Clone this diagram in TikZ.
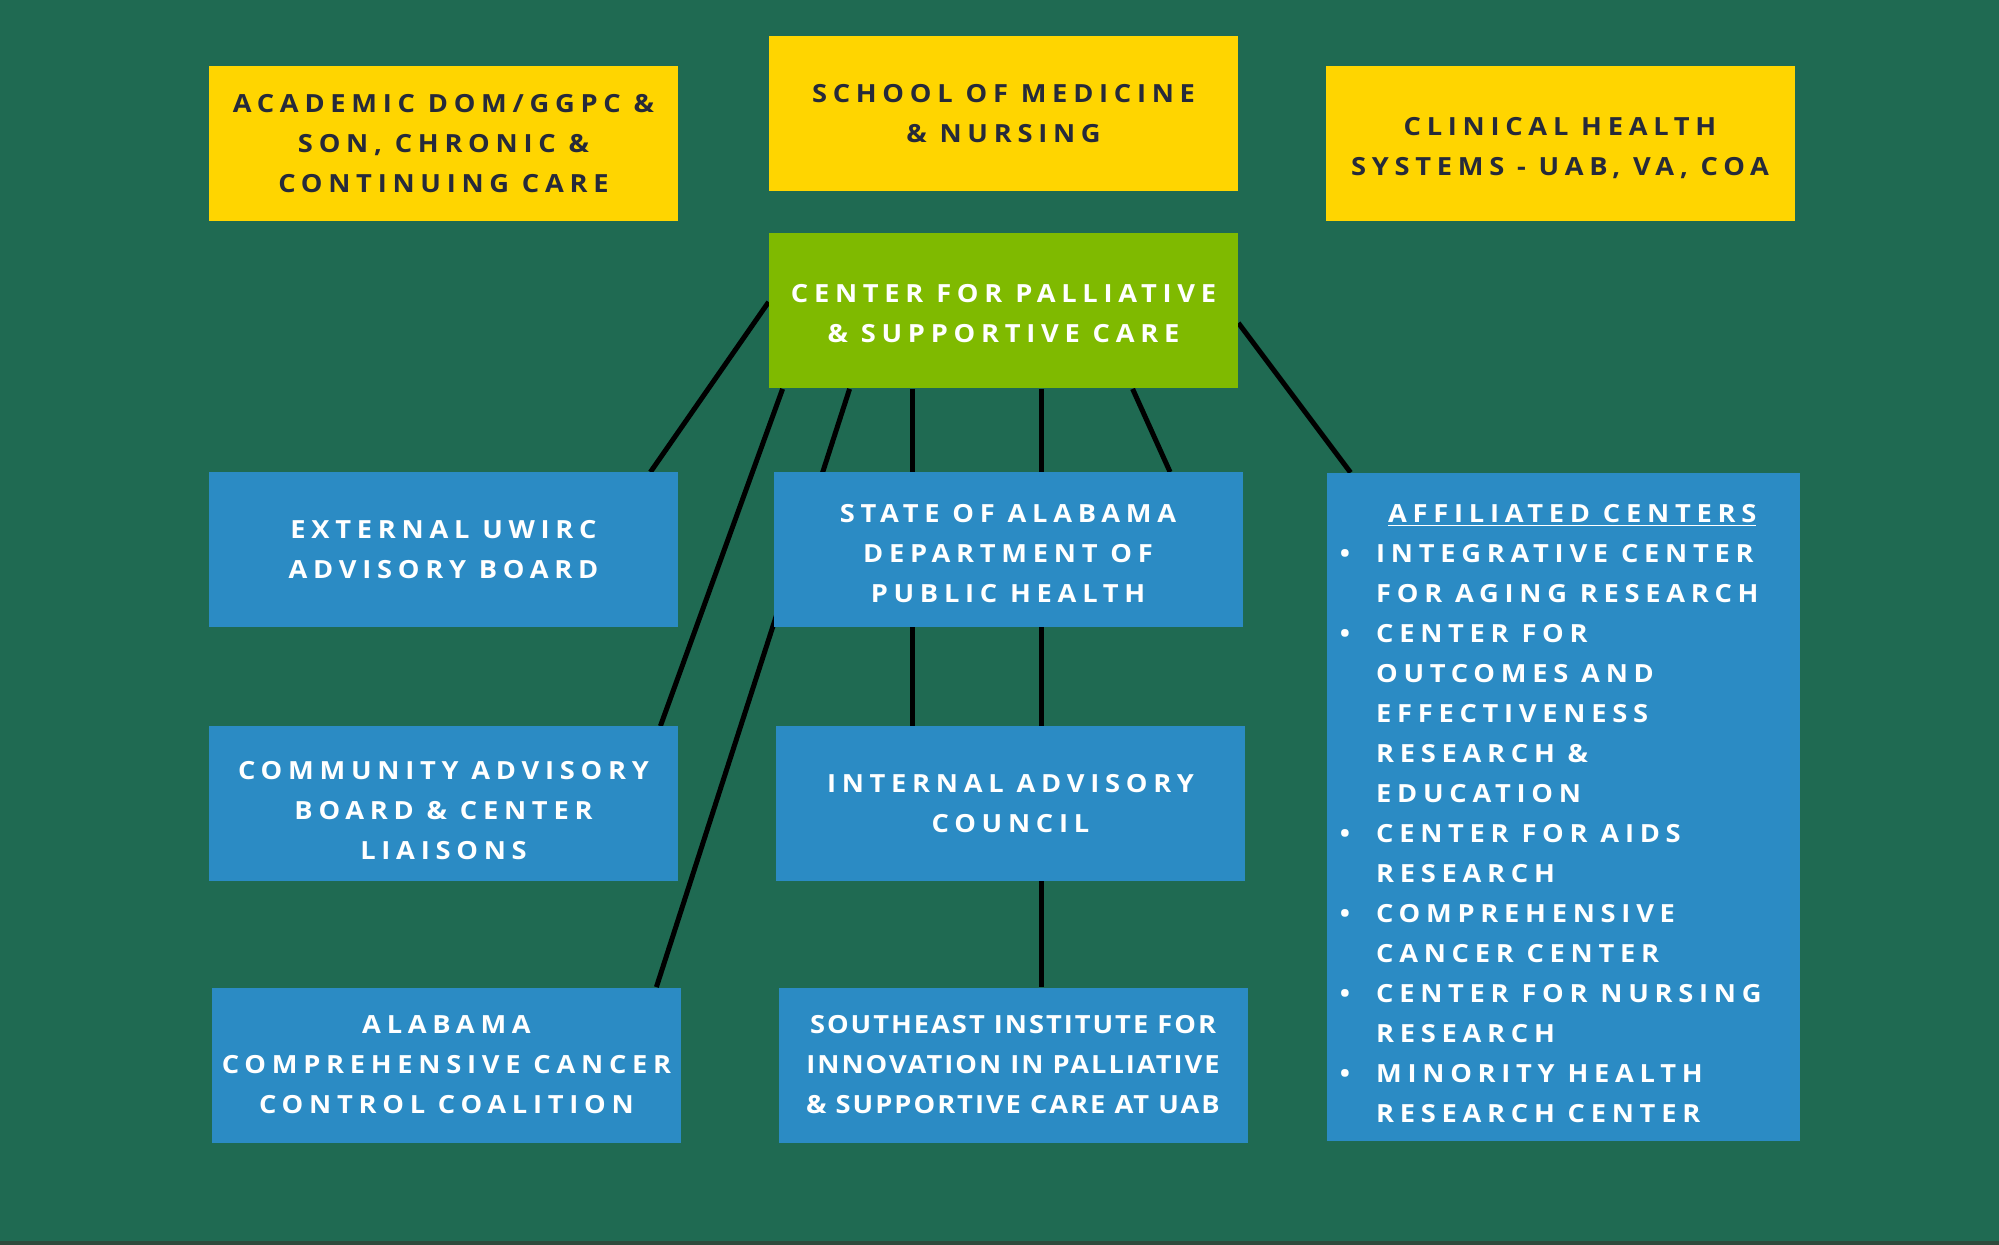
\documentclass[tikz,border=0pt]{standalone}
\usepackage{fontspec}
\setmainfont{Open Sans}
\newfontfamily\chartfont{Open Sans}[LetterSpace=23, FakeStretch=1.09]
\newfontfamily\tightfont{Open Sans}[LetterSpace=8, FakeStretch=1.09]
\usetikzlibrary{positioning}
\definecolor{page colour}{RGB}{31,106,82}
\definecolor{edge colour}{RGB}{46,74,60}
\definecolor{gold colour}{RGB}{255,213,0}
\definecolor{lime colour}{RGB}{127,186,0}
\definecolor{sky colour}{RGB}{43,139,196}
\definecolor{ink colour}{RGB}{38,42,58}
\tikzset{
    % Box fonts
    box font/.style={font=\chartfont\bfseries\fontsize{12.5}{20}\selectfont},
    tight font/.style={font=\tightfont\bfseries\fontsize{12.5}{20}\selectfont},
%
    box/.style={
        rectangle, inner sep=0, align=center, box font,
        minimum width=234.5pt, minimum height=77.5pt},
    gold box/.style={box, fill=gold colour, text=ink colour},
    lime box/.style={box, fill=lime colour, text=white},
    sky box/.style={box, fill=sky colour, text=white},
%
    link/.style={draw=black, line width=2.5pt},
}
% Text set a little below the middle of its box
\newcommand{\lowered}[2]{%
    \raisebox{-#1}[\height][\depth]{\begin{tabular}{@{}c@{}}#2\end{tabular}}}
\pgfdeclarelayer{background}
\pgfdeclarelayer{links}
\pgfsetlayers{background,links,main}

\begin{document}
\begin{tikzpicture}[x=0.5pt, y=-0.5pt]

\begin{pgfonlayer}{background}
\fill [page colour] (0,0) rectangle (1999,1245);
\fill [edge colour] (0,1241) rectangle (1999,1245);
\end{pgfonlayer}

\path
    (443.5,143.5) node [gold box] (academic)
        {ACADEMIC DOM/GGPC \&\\SON, CHRONIC \&\\CONTINUING CARE}
    (1003.5,113.5) node [gold box] (school)
        {SCHOOL OF MEDICINE\\\& NURSING}
    (1560,143.5) node [gold box] (clinical)
        {\lowered{2pt}{CLINICAL HEALTH\\SYSTEMS - UAB, VA, COA}}
    (1003.5,311) node [lime box] (cpsc)
        {\lowered{2pt}{CENTER FOR PALLIATIVE\\\& SUPPORTIVE CARE}};

\path
    (443.5,550) node [sky box] (external)
        {EXTERNAL UWIRC\\ADVISORY BOARD}
    (1008,550) node [sky box] (state)
        {\lowered{2.5pt}{STATE OF ALABAMA\\DEPARTMENT OF\\PUBLIC HEALTH}}
    (443.5,804) node [sky box] (community)
        {\lowered{3.8pt}{COMMUNITY ADVISORY\\BOARD \& CENTER\\LIAISONS}}
    (1010.5,804) node [sky box] (internal)
        {INTERNAL ADVISORY\\COUNCIL}
    (446.5,1065) node [sky box] (alabama)
        {ALABAMA\\COMPREHENSIVE CANCER\\CONTROL COALITION}
    (1013,1065) node [sky box, tight font] (southeast)
        {SOUTHEAST INSTITUTE FOR\\INNOVATION IN PALLIATIVE\\\& SUPPORTIVE CARE AT UAB};

\path
    (1563.5,807) node [sky box, minimum width=236.5pt, minimum height=334pt] (affiliated)
        {\hspace*{-1.4pt}\raisebox{-3.8pt}[\height][\depth]{%
        \begin{tabular}{@{}l@{\hspace{13pt}}l@{}}
        & \multicolumn{1}{c}{\underline{AFFILIATED CENTERS}\hspace*{8pt}}\\
        \textbullet & INTEGRATIVE CENTER\\
                    & FOR AGING RESEARCH\\
        \textbullet & CENTER FOR\\
                    & OUTCOMES AND\\
                    & EFFECTIVENESS\\
                    & RESEARCH \&\\
                    & EDUCATION\\
        \textbullet & CENTER FOR AIDS\\
                    & RESEARCH\\
        \textbullet & COMPREHENSIVE\\
                    & CANCER CENTER\\
        \textbullet & CENTER FOR NURSING\\
                    & RESEARCH\\
        \textbullet & MINORITY HEALTH\\
                    & RESEARCH CENTER
        \end{tabular}}};

\begin{pgfonlayer}{links}
\draw [link] ([yshift=4.5pt]cpsc.west) -- ([xshift=-14pt]external.north east);
\draw [link] ([xshift=7pt]cpsc.south west) -- ([xshift=-9pt]community.north east);
\draw [link] ([xshift=40.5pt]cpsc.south west) -- ([xshift=-12.5pt]alabama.north east);
\draw [link] ([xshift=72pt]cpsc.south west) -- ([xshift=72pt]cpsc.south west |- internal.north);
\draw [link] ([xshift=136.5pt]cpsc.south west) -- ([xshift=136.5pt]cpsc.south west |- southeast.north);
\draw [link] ([xshift=182pt]cpsc.south west) -- ([xshift=198.5pt]state.north west);
\draw [link] ([yshift=-6pt]cpsc.east) -- ([xshift=12pt]affiliated.north west);
\end{pgfonlayer}

\end{tikzpicture}
\end{document}
